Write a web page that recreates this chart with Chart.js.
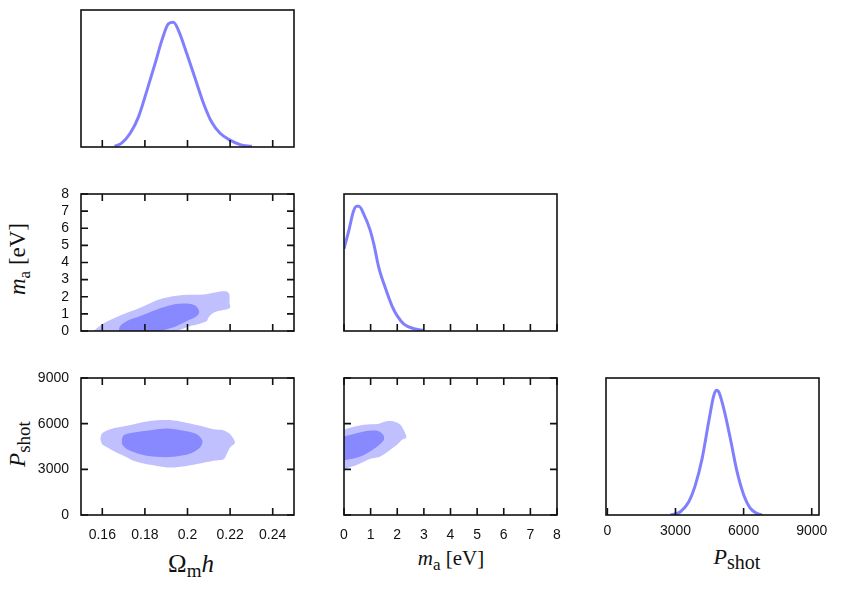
<!DOCTYPE html>
<html>
<head>
<meta charset="utf-8">
<script src="https://cdn.jsdelivr.net/npm/chart.js@4.4.1/dist/chart.umd.min.js"></script>
<style>
  body { margin: 0; background: #fff; width: 844px; height: 589px; position: relative; overflow: hidden; }
  canvas { position: absolute; }
  .ttl { position: absolute; font-family: "Liberation Serif", "DejaVu Serif", serif; font-size: 21px; line-height: 1; white-space: nowrap; color: #111; }
  .ttl .s { font-size: 17px; position: relative; top: 5px; }
  .ttl .big { font-size: 25px; }
  .vert { transform: translate(-50%, -50%) rotate(-90deg); font-size: 23px; }
  .hor { transform: translateX(-50%); }
</style>
</head>
<body>
<div class="ttl vert" style="left:17px; top:259px;"><i>m</i><span class="s">a</span> [eV]</div>
<div class="ttl vert" style="left:17px; top:444px;"><i>P</i><span class="s" style="font-size:19px">shot</span></div>
<div class="ttl hor" style="left:191px; top:551px;"><span class="big">Ω</span><span class="s" style="font-size:19px">m</span><i class="big">h</i></div>
<div class="ttl hor" style="left:451px; top:548px;"><i>m</i><span class="s">a</span> [eV]</div>
<div class="ttl hor" style="left:737px; top:546px; font-size:22px;"><i>P</i><span class="s" style="font-size:20px">shot</span></div>
<script>
// tick values
const omhTicks = [0.16, 0.18, 0.2, 0.22, 0.24];
const maTicks = [0, 1, 2, 3, 4, 5, 6, 7, 8];
const pshotTicks = [0, 3000, 6000, 9000];

// 1D marginals (relative probability)
const omhCurveX = [0.1658, 0.1692, 0.1731, 0.1770, 0.1809, 0.1848, 0.1880, 0.1911, 0.1934, 0.1958, 0.1997, 0.2036, 0.2075, 0.2114, 0.2153, 0.2200, 0.2247, 0.2302];
const omhCurveY = [0.005, 0.03, 0.10, 0.22, 0.41, 0.61, 0.78, 0.90, 0.91, 0.85, 0.68, 0.50, 0.32, 0.18, 0.10, 0.05, 0.017, 0.005];

const maCurveX = [0, 0.19, 0.35, 0.475, 0.56, 0.75, 0.975, 1.125, 1.31, 1.56, 1.81, 2.0, 2.25, 2.625, 3.0];
const maCurveY = [0.60, 0.74, 0.87, 0.91, 0.91, 0.85, 0.74, 0.63, 0.46, 0.31, 0.18, 0.11, 0.05, 0.017, 0.005];

const pshotCurveX = [2780, 3219, 3585, 3877, 4170, 4462, 4682, 4799, 4901, 5121, 5413, 5706, 5999, 6291, 6584, 6803];
const pshotCurveY = [0, 0.024, 0.097, 0.22, 0.41, 0.68, 0.87, 0.91, 0.90, 0.78, 0.56, 0.32, 0.15, 0.05, 0.012, 0];

// 2D contours, 95% (outer) and 68% (inner)
const omhMa95X = [0.1559, 0.1606, 0.1684, 0.1778, 0.1856, 0.1919, 0.1997, 0.2075, 0.2122, 0.2153, 0.2184, 0.2197, 0.2197, 0.2200, 0.2169, 0.2122, 0.2098, 0.2091, 0.2059, 0.2013, 0.1973, 0.1950, 0.1559];
const omhMa95Y = [0, 0.45, 0.91, 1.36, 1.80, 2.00, 2.11, 2.13, 2.23, 2.31, 2.31, 2.13, 1.65, 1.36, 1.22, 1.07, 0.78, 0.58, 0.43, 0.29, 0.10, 0, 0];
const omhMa68X = [0.1677, 0.1684, 0.1716, 0.1778, 0.1856, 0.1934, 0.1997, 0.2036, 0.2055, 0.2044, 0.1997, 0.1950, 0.1903, 0.1872, 0.1677];
const omhMa68Y = [0, 0.29, 0.58, 0.87, 1.26, 1.55, 1.61, 1.49, 1.16, 0.87, 0.58, 0.29, 0.10, 0, 0];

const omhPs95X = [0.1591, 0.1598, 0.1638, 0.1716, 0.1809, 0.1903, 0.1966, 0.2059, 0.2122, 0.2169, 0.2200, 0.2223, 0.2200, 0.2184, 0.2169, 0.2122, 0.2059, 0.1997, 0.1919, 0.1856, 0.1794, 0.1747, 0.1700, 0.1638, 0.1598];
const omhPs95Y = [4983, 5356, 5641, 5861, 6146, 6234, 6146, 5861, 5641, 5575, 5312, 4763, 4434, 3995, 3666, 3556, 3380, 3227, 3117, 3227, 3380, 3556, 3885, 4324, 4653];
const omhPs68X = [0.1692, 0.1700, 0.1747, 0.1825, 0.1903, 0.1981, 0.2044, 0.2070, 0.2059, 0.2013, 0.1934, 0.1856, 0.1778, 0.1716, 0.1692];
const omhPs68Y = [4983, 5246, 5422, 5575, 5685, 5532, 5312, 4873, 4434, 4039, 3819, 3819, 3995, 4324, 4653];

const maPs95X = [0, 0.25, 0.75, 1.25, 1.56, 1.87, 2.12, 2.27, 2.34, 2.18, 1.99, 1.74, 1.37, 1.0, 0.5, 0.12, 0];
const maPs95Y = [5598, 5751, 5927, 5970, 6146, 6146, 5927, 5488, 5093, 4939, 4610, 4280, 3841, 3688, 3293, 3073, 3029];
const maPs68X = [0, 0.25, 0.75, 1.25, 1.47, 1.50, 1.25, 0.87, 0.5, 0.12, 0];
const maPs68Y = [5158, 5268, 5488, 5532, 5268, 4939, 4500, 4061, 3775, 3622, 3600];

const lightBlue = '#c0c0ff';
const midBlue = '#8888ff';
const lineBlue = '#8080ff';

const pts = (xs, ys) => xs.map((x, i) => ({ x: x, y: ys[i] }));

// frame + inward ticks
const frame = {
  id: 'frame',
  afterDraw(chart, args, o) {
    const { ctx, chartArea: a, scales } = chart;
    ctx.save();
    ctx.strokeStyle = '#111';
    ctx.lineWidth = 1.6;
    ctx.strokeRect(a.left, a.top, a.right - a.left, a.bottom - a.top);
    ctx.beginPath();
    scales.x.ticks.forEach(t => {
      const px = scales.x.getPixelForValue(t.value);
      if (o.bottom) { ctx.moveTo(px, a.bottom); ctx.lineTo(px, a.bottom - 7); }
      if (o.top) { ctx.moveTo(px, a.top); ctx.lineTo(px, a.top + 7); }
    });
    scales.y.ticks.forEach(t => {
      const py = scales.y.getPixelForValue(t.value);
      if (o.left) { ctx.moveTo(a.left, py); ctx.lineTo(a.left + 7, py); }
      if (o.right) { ctx.moveTo(a.right, py); ctx.lineTo(a.right - 7, py); }
    });
    ctx.stroke();
    ctx.restore();
  }
};

const BW = 213, BH = 137;
const M = { left: 62, right: 24, top: 6, bottom: 34 };

function axis(a, which) {
  return {
    type: 'linear', min: a.min, max: a.max,
    grid: { display: false, drawTicks: false },
    border: { display: false },
    ticks: {
      display: !!a.labels, padding: a.pad || 12, maxRotation: 0, autoSkip: false, color: '#111',
      font: { family: '"Liberation Sans", Arial, sans-serif', size: 14 },
      callback: v => String(v)
    },
    afterBuildTicks: s => { s.ticks = a.ticks.map(v => ({ value: v })); },
    afterFit: s => {
      if (which === 'x') s.height = M.bottom; else s.width = M.left;
      s.paddingLeft = s.paddingRight = s.paddingTop = s.paddingBottom = 0;
    }
  };
}

function panel(boxLeft, boxTop, opt) {
  const c = document.createElement('canvas');
  c.width = BW + M.left + M.right;
  c.height = BH + M.top + M.bottom;
  c.style.left = (boxLeft - M.left) + 'px';
  c.style.top = (boxTop - M.top) + 'px';
  document.body.appendChild(c);
  new Chart(c, {
    type: 'line',
    data: { datasets: opt.datasets },
    options: {
      responsive: false, animation: false, devicePixelRatio: 1,
      layout: { padding: { top: M.top, right: M.right, left: 0, bottom: 0 } },
      elements: { point: { radius: 0 } },
      plugins: { legend: { display: false }, tooltip: { enabled: false }, frame: opt.sides },
      scales: { x: axis(opt.x, 'x'), y: axis(opt.y, 'y') }
    },
    plugins: [frame]
  });
}

function curve(xs, ys) {
  return { data: pts(xs, ys), borderColor: lineBlue, borderWidth: 3, fill: false, tension: 0.4, cubicInterpolationMode: 'monotone' };
}
function region(xs, ys, color, order) {
  return { data: pts(xs, ys), borderColor: 'rgba(0,0,0,0)', borderWidth: 0, backgroundColor: color, fill: 'shape', tension: 0.3, order: order };
}

const omhAxis = { min: 0.15, max: 0.25, ticks: omhTicks };
const maAxis = { min: 0, max: 8, ticks: maTicks };
const psAxis = { min: 0, max: 9000, ticks: pshotTicks };
const pdfAxis = { min: 0, max: 1, ticks: [0, 1] };
const box4 = { bottom: true, top: true, left: true, right: true };

// row 1
panel(81, 10, {
  x: omhAxis, y: pdfAxis, sides: { bottom: true },
  datasets: [curve(omhCurveX, omhCurveY)]
});
// row 2
panel(81, 194, {
  x: omhAxis, y: Object.assign({ labels: true }, maAxis), sides: box4,
  datasets: [region(omhMa68X, omhMa68Y, midBlue, 1), region(omhMa95X, omhMa95Y, lightBlue, 2)]
});
panel(344, 194, {
  x: maAxis, y: pdfAxis, sides: { bottom: true },
  datasets: [curve(maCurveX, maCurveY)]
});
// row 3
panel(81, 378, {
  x: Object.assign({ labels: true }, omhAxis), y: Object.assign({ labels: true }, psAxis), sides: box4,
  datasets: [region(omhPs68X, omhPs68Y, midBlue, 1), region(omhPs95X, omhPs95Y, lightBlue, 2)]
});
panel(344, 378, {
  x: Object.assign({ labels: true }, maAxis), y: psAxis, sides: box4,
  datasets: [region(maPs68X, maPs68Y, midBlue, 1), region(maPs95X, maPs95Y, lightBlue, 2)]
});
panel(606, 378, {
  x: { min: -60, max: 9320, ticks: pshotTicks, labels: true, pad: 8 }, y: pdfAxis, sides: { bottom: true },
  datasets: [curve(pshotCurveX, pshotCurveY)]
});
</script>
</body>
</html>
